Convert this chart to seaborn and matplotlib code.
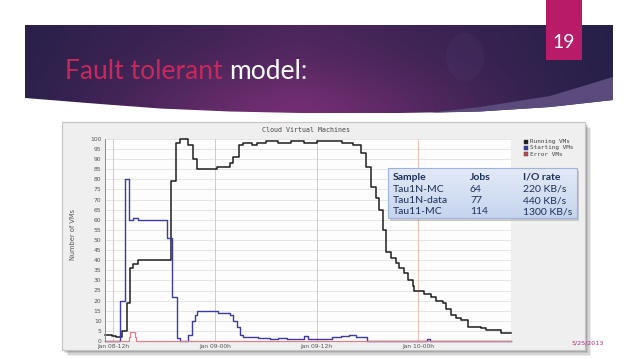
import numpy as np
import pandas as pd
import matplotlib
matplotlib.use("Agg")
import matplotlib.pyplot as plt
import seaborn as sns
from matplotlib.patches import Rectangle, Polygon, Ellipse

# ---------------- data (hours since Jan 08 00h) ----------------
running_t = [11.05, 11.9, 12.3, 13.06, 13.65, 14.01, 14.36, 14.96, 18.86, 19.45, 19.92, 20.87, 21.46, 21.93,
             24.29, 25.83, 26.18, 26.9, 27.37, 28.4, 29.0, 30.0, 31.5, 33.0, 34.5, 36.0, 37.5, 39.0, 40.3,
             41.20, 41.79, 42.38, 42.97, 43.32, 43.80, 44.15, 44.74, 45.33, 45.69, 46.28, 46.75, 47.34, 47.46,
             48.64, 49.47, 50.06, 50.89, 51.3, 51.84, 52.43, 53.02, 53.84, 55.38, 55.97, 57.74, 58.93]
running_v = [3, 2.5, 2, 5, 19, 36, 38, 40, 79, 98, 100, 97, 90, 85,
             86, 88, 91, 97, 98, 97, 98, 99, 98, 99, 98, 99, 99, 98, 97,
             93, 86, 76, 71, 65, 55, 44, 41, 38.5, 36, 33.5, 30, 27, 25,
             23.5, 22, 20, 19, 16, 13, 11.5, 10.5, 7, 6.5, 5.5, 4, 4]

starting_t = [11.05, 12.83, 13.42, 13.89, 14.36, 14.96, 18.38, 18.97, 19.56, 19.92, 20.87, 21.34, 21.69, 21.93,
              24.41, 25.83, 26.18, 26.66, 27.01, 27.37, 29.14, 30.5, 31.5, 32.5, 34.46, 35.0, 36.5, 37.8,
              38.83, 39.8, 40.6, 41.9, 49.0, 49.4, 58.93]
starting_v = [0, 20, 80, 60, 61, 60, 51, 22, 1.5, 0, 3, 10, 13, 15,
              14, 13, 10, 7, 3, 2, 1.5, 1, 1.5, 1, 2.5, 1, 1, 2,
              2.5, 3, 2, 0, 1, 0, 0]

error_t = [11.05, 13.89, 14.0, 14.6, 14.75, 58.93]
error_v = [0, 2, 4.5, 2, 0, 0]

series_names = ["Running VMs", "Starting VMs", "Error VMs"]
series_colors = ["#1e1e1e", "#3b3aa6", "#e07f86"]

x_ticks = [12, 24, 36, 48]
x_tick_labels = ["Jan 08-12h", "Jan 09-00h", "Jan 09-12h", "Jan 10-00h"]

table_header = ["Sample", "Jobs", "I/O rate"]
table_samples = ["Tau1N-MC", "Tau1N-data", "Tau11-MC"]
table_jobs = ["64", "77", "114"]
table_rates = ["220 KB/s", "440 KB/s", "1300 KB/s"]

df = pd.concat([
    pd.DataFrame({"t": running_t, "v": running_v, "s": series_names[0]}),
    pd.DataFrame({"t": starting_t, "v": starting_v, "s": series_names[1]}),
    pd.DataFrame({"t": error_t, "v": error_v, "s": series_names[2]}),
], ignore_index=True)

# ---------------- figure ----------------
fig = plt.figure(figsize=(6.38, 3.59), dpi=100)
fig.patch.set_facecolor("white")

bg = fig.add_axes([0, 0, 1, 1], zorder=0)
bg.set_xlim(0, 638); bg.set_ylim(359, 0); bg.axis("off")

# banner
bottom_curve = [(25, 98), (100, 104), (160, 108.5), (230, 111.5), (300, 113), (400, 113),
                (480, 111.5), (550, 107), (613, 100)]
banner_pts = [(25, 25), (613, 25)] + bottom_curve[::-1]
banner = Polygon(banner_pts, closed=True, facecolor="none", edgecolor="none")
bg.add_patch(banner)
xs = np.linspace(25, 613, 400)
ys = np.linspace(25, 114, 90)
X, Y = np.meshgrid(xs, ys)
img = np.zeros(X.shape + (3,))
for i, (a, b, c) in enumerate(zip((42, 32, 74), (74, 38, 92), (38, 32, 72))):
    img[..., i] = np.interp(X, [25, 300, 613], [a, b, c])
glow = np.exp(-(((X - 290) / 180) ** 2 + ((Y - 118) / 55) ** 2))
img += np.array([42, 8, 22]) * glow[..., None]
img = np.clip(img / 255.0, 0, 1)
im = bg.imshow(img, extent=(25, 613, 114, 25), origin="upper", aspect="auto", zorder=1)
im.set_clip_path(banner)

wedge = [(430, 112.8), (480, 107), (550, 96), (613, 77), (613, 100), (550, 107), (480, 111.5), (430, 112.8)]
bg.add_patch(Polygon(wedge, closed=True, facecolor="#5a4b7c", edgecolor="none", zorder=2))
bg.add_patch(Ellipse((465, 57), 38, 48, facecolor="#7a6aaa", alpha=0.08, edgecolor="none", zorder=2))

bg.add_patch(Rectangle((546, 0), 36, 60, facecolor="#b81c68", edgecolor="none", zorder=3))
bg.text(564, 42, "19", color="white", fontsize=14, family="Lato",
        ha="center", va="center", zorder=4)

t1 = bg.text(65, 79, "Fault tolerant", color="#c8285a", fontsize=19, family="Lato",
             va="baseline", ha="left", zorder=4)
bg.annotate("model:", xy=(1, 0), xycoords=t1, xytext=(4.5, 0), textcoords="offset points",
            va="bottom", ha="left", color="white", fontsize=19, family="Lato", zorder=4)

# screenshot frame with shadow
for k, al in enumerate([0.10, 0.12, 0.15, 0.18]):
    off = 6 - k * 1.3
    bg.add_patch(Rectangle((62 + off, 122 + off), 523, 228, facecolor="#404040",
                           edgecolor="none", alpha=al, zorder=3))
bg.add_patch(Rectangle((62, 122), 523, 228, facecolor="#efefef", edgecolor="#c4c4c4",
                       lw=0.8, zorder=4))

# ---------------- chart ----------------
ax = fig.add_axes([105 / 638, (359 - 341) / 359, (511 - 105) / 638, (341 - 139) / 359], zorder=1)
ax.set_facecolor("#fdfdfd")
for yv in range(5, 101, 5):
    ax.axhline(yv, color="#dcdcdc", lw=0.5, zorder=0)
for xv in x_ticks:
    ax.axvline(xv, color="#f0c0ae", lw=0.7, zorder=0.5)

sns.lineplot(data=df, x="t", y="v", hue="s", hue_order=series_names,
             palette=dict(zip(series_names, series_colors)), drawstyle="steps-post",
             estimator=None, sort=False, legend=False, ax=ax, linewidth=1.0)
for ln, lw in zip(ax.get_lines()[-3:], [1.1, 1.0, 0.9]):
    ln.set_linewidth(lw)
    ln.set_clip_on(False)

ax.set_xlim(11.05, 58.93)
ax.set_ylim(0, 100)
ax.set_yticks(list(range(0, 101, 5)))
ax.set_yticklabels([str(v) for v in range(0, 101, 5)], fontsize=4.3, color="#555555", family="DejaVu Sans")
ax.set_xticks(x_ticks)
ax.set_xticklabels(x_tick_labels, fontsize=4.3, color="#555555", family="DejaVu Sans")
ax.tick_params(axis="both", length=0, pad=2.5)
ax.set_xlabel(""); ax.set_ylabel("")
for side in ["top", "right", "bottom"]:
    ax.spines[side].set_visible(False)
ax.spines["left"].set_color("#8a8a8a")
ax.spines["left"].set_linewidth(0.7)

# ---------------- overlay ----------------
ov = fig.add_axes([0, 0, 1, 1], zorder=2)
ov.set_xlim(0, 638); ov.set_ylim(359, 0); ov.axis("off"); ov.patch.set_alpha(0)

ov.text(306, 130, "Cloud Virtual Machines", family="DejaVu Sans Mono", fontsize=4.8,
        color="#444444", ha="center", va="center")
ov.text(73, 235, "Number of VMs", rotation=90, fontsize=4.8, color="#555555",
        ha="center", va="center", family="DejaVu Sans")

for i, (name, col) in enumerate(zip(series_names, series_colors)):
    yy = 142 + i * 6
    ov.add_patch(Rectangle((524, yy - 2), 4, 4, facecolor=col if i != 2 else "#c84a4a",
                           edgecolor="#333333", lw=0.3))
    ov.text(530.5, yy, name, family="DejaVu Sans Mono", fontsize=4.3, color="#444444",
            ha="left", va="center")

# table box
ov.add_patch(Rectangle((390, 170.5), 189, 50, facecolor="#7f7f7f", alpha=0.35, edgecolor="none"))
tb = Rectangle((388, 168), 189, 50, facecolor="none", edgecolor="#9db2dc", lw=0.8, zorder=3)
ov.add_patch(tb)
gy = np.linspace(0, 1, 50)[:, None] * np.ones((1, 10))
tcol = np.zeros(gy.shape + (3,))
for i, (a, b) in enumerate(zip((226, 234, 247), (198, 213, 238))):
    tcol[..., i] = (a + (b - a) * gy) / 255.0
tim = ov.imshow(tcol, extent=(388, 577, 218, 168), origin="upper", aspect="auto", zorder=2)
tim.set_clip_path(tb)
ov.set_xlim(0, 638); ov.set_ylim(359, 0)

col_x = [393, 470, 523]
tcolor = "#1d2f5c"
for x, h in zip(col_x, table_header):
    ov.text(x, 177, h, family="Lato", fontsize=7.5, fontweight="bold", color=tcolor,
            ha="left", va="center", zorder=4)
for r in range(3):
    yy = 189 + r * 11.5
    for x, val in zip(col_x, [table_samples[r], table_jobs[r], table_rates[r]]):
        ov.text(x, yy, val, family="Lato", fontsize=7.5, color=tcolor, ha="left", va="center", zorder=4)

ov.text(588, 343, "5/25/2013", color="#b0307a", fontsize=4.6, ha="center", va="center",
        family="DejaVu Sans")

fig.savefig("out.png", dpi=100)
